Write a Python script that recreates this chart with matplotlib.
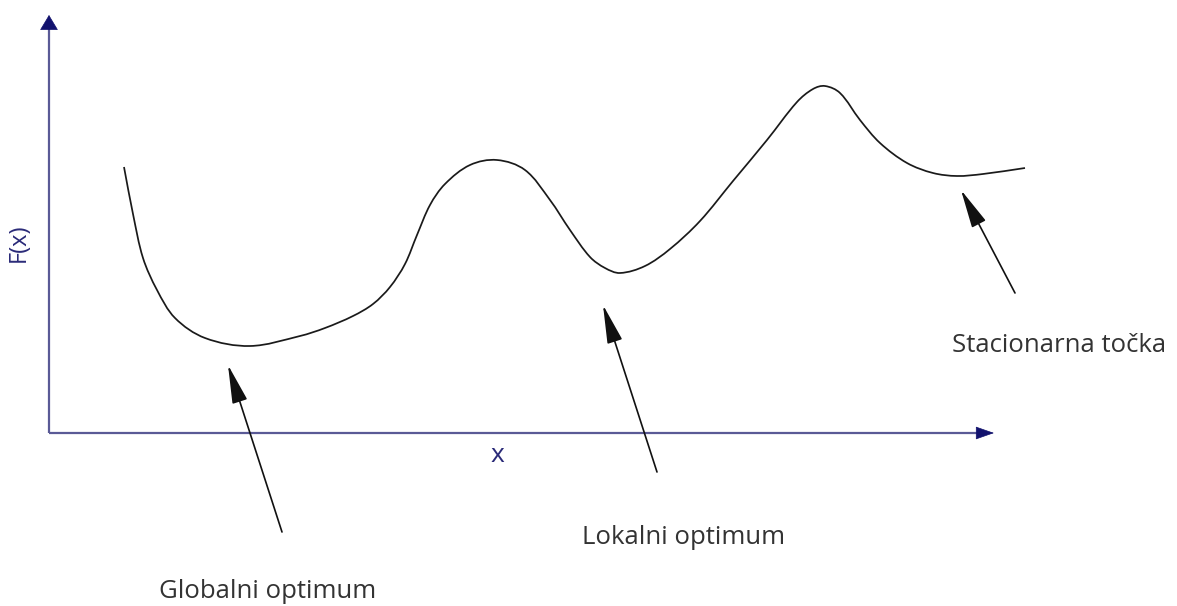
import matplotlib
matplotlib.use("Agg")
import matplotlib.pyplot as plt
from matplotlib.path import Path
from matplotlib.patches import PathPatch
import math

# Curve (pixel coordinates, y downward)
curve_x = [124, 133, 143, 157, 175, 205, 250, 300, 325, 353, 373, 390, 405, 417,
           430, 445, 470, 497, 525, 550, 570, 590, 605, 620, 645, 670, 700, 733,
           767, 797, 813, 825, 840, 860, 880, 907, 933, 957, 983, 1025]
curve_y = [167, 214, 258, 290, 318, 338, 346, 336, 328, 316, 304, 287, 264, 235,
           205, 184, 165, 160, 170, 200, 230, 257, 268, 273, 266, 249, 221, 181,
           140, 102, 89, 86, 93, 120, 143, 163, 173, 176, 174, 168]

labels = ["Globalni optimum", "Lokalni optimum", "Stacionarna točka"]
label_pos = [(268, 592), (684, 537), (1059, 345)]
arrow_tips = [(228, 365), (603, 305), (961, 190)]
arrow_tails = [(282, 532), (657, 472), (1015, 293)]

axis_label_x = "x"
axis_label_y = "F(x)"

W, H = 1177, 606
fig = plt.figure(figsize=(W / 100, H / 100), dpi=100)
ax = fig.add_axes([0, 0, 1, 1])
ax.set_xlim(0, W)
ax.set_ylim(H, 0)
ax.axis("off")

axis_line = "#5a5a96"
axis_head = "#12126e"
ox, oy = 49, 433
# y axis
ax.plot([ox, ox], [oy, 27], color=axis_line, lw=1.6, solid_capstyle="butt")
ax.annotate("", xy=(ox, 15), xytext=(ox, 29),
            arrowprops=dict(arrowstyle="-|>,head_length=1.0,head_width=0.6",
                            mutation_scale=10, color=axis_head, lw=0.5,
                            shrinkA=0, shrinkB=0))
# x axis
ax.plot([ox, 979], [oy, oy], color=axis_line, lw=1.6, solid_capstyle="butt")
ax.annotate("", xy=(994, oy), xytext=(977, oy),
            arrowprops=dict(arrowstyle="-|>,head_length=1.2,head_width=0.42",
                            mutation_scale=10, color=axis_head, lw=0.5,
                            shrinkA=0, shrinkB=0))

# smooth rendering of the read points as a cubic Bezier path
pts = list(zip(curve_x, curve_y))
n = len(pts)


def unit(a, b):
    dx, dy = b[0] - a[0], b[1] - a[1]
    l = math.hypot(dx, dy)
    return (dx / l, dy / l)


tang = []
for i in range(n):
    a = pts[i - 1] if i > 0 else pts[i]
    b = pts[i + 1] if i < n - 1 else pts[i]
    tang.append(unit(a, b))

verts = [pts[0]]
codes = [Path.MOVETO]
for i in range(n - 1):
    p1, p2 = pts[i], pts[i + 1]
    L = math.hypot(p2[0] - p1[0], p2[1] - p1[1]) / 3
    c1 = (p1[0] + tang[i][0] * L, p1[1] + tang[i][1] * L)
    c2 = (p2[0] - tang[i + 1][0] * L, p2[1] - tang[i + 1][1] * L)
    verts += [c1, c2, p2]
    codes += [Path.CURVE4] * 3
ax.add_patch(PathPatch(Path(verts, codes), facecolor="none",
                       edgecolor="#1a1a1a", lw=1.25))

for tip, tail in zip(arrow_tips, arrow_tails):
    ax.annotate("", xy=tip, xytext=tail,
                arrowprops=dict(arrowstyle="-|>,head_length=2.4,head_width=0.48",
                                mutation_scale=10, color="#111111", lw=1.2,
                                shrinkA=0, shrinkB=0))

for lab, (x, y) in zip(labels, label_pos):
    ax.text(x, y, lab, ha="center", va="center", fontsize=18.5,
            family="Open Sans", color="#333333")

ax.text(497, 455, axis_label_x, ha="center", va="center", fontsize=19,
        family="Open Sans", color="#2a2a78")
ax.text(19, 243, axis_label_y, ha="center", va="center", fontsize=17,
        family="Open Sans", color="#2a2a78", rotation=90)

fig.savefig("out.png", dpi=100)
